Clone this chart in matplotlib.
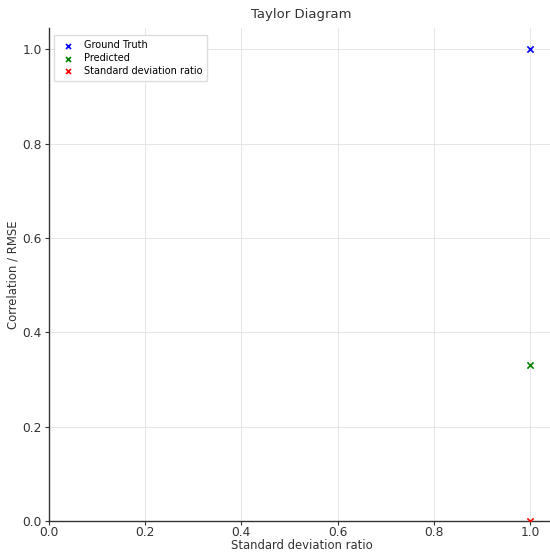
import matplotlib
matplotlib.use("Agg")
import matplotlib.pyplot as plt

# Points on the diagram: (standard deviation ratio, correlation)
labels = ["Ground Truth", "Predicted", "Standard deviation ratio"]
std_ratio = [1.0, 1.0, 1.0]
correlation = [1.0, 0.33, 0.0]
colors = ["blue", "green", "red"]

x_ticks = [0.0, 0.2, 0.4, 0.6, 0.8, 1.0]
y_ticks = [0.0, 0.2, 0.4, 0.6, 0.8, 1.0]

fig = plt.figure(figsize=(5.5, 5.55), dpi=100)
ax = fig.add_axes([49 / 550, 1 - 521 / 555, 505 / 550, 493 / 555])

for lab, x, y, c in zip(labels, std_ratio, correlation, colors):
    ax.scatter([x], [y], marker="x", s=20, color=c, linewidths=1.2, label=lab, zorder=3)

ax.set_xlim(0, 1.05)
ax.set_ylim(0, 1.045)
ax.set_xticks(x_ticks)
ax.set_yticks(y_ticks)
ax.tick_params(labelsize=8.8, colors="#333333", length=3, width=0.8, pad=2)
ax.tick_params(axis="x", pad=0.5)
for s in ("top", "right"):
    ax.spines[s].set_visible(False)
for s in ("left", "bottom"):
    ax.spines[s].set_color("#333333")
    ax.spines[s].set_linewidth(1.0)

ax.grid(True, color="#e2e2e2", linewidth=0.6)
ax.set_axisbelow(True)

ax.set_title("Taylor Diagram", fontsize=9.5, color="#333333", pad=7)
ax.set_xlabel("Standard deviation ratio", fontsize=8.4, color="#333333", labelpad=0)
ax.set_ylabel("Correlation / RMSE", fontsize=8.4, color="#333333", labelpad=2)

ax.legend(loc="upper left", fontsize=7, frameon=True, framealpha=1,
          edgecolor="#dddddd", fancybox=False, handletextpad=0.6,
          borderpad=0.5, labelspacing=0.3, markerscale=0.8,
          bbox_to_anchor=(0.0, 0.995))

fig.savefig("out.png", dpi=100)
